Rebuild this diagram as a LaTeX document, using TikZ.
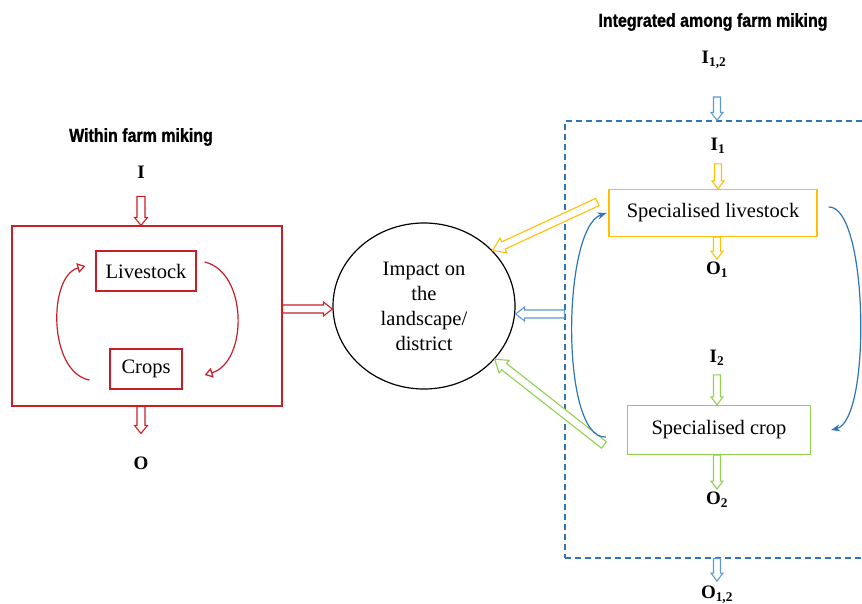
\documentclass[tikz,border=0pt]{standalone}
\usepackage{fontspec}
\setmainfont{Liberation Serif}
\newfontfamily\titlefont[FakeStretch=0.85,FakeBold=1.2]{Liberation Sans}
\usetikzlibrary{arrows.meta,calc,shapes.geometric}
\definecolor{cred}{RGB}{200,30,40}
\definecolor{cyel}{RGB}{255,192,0}
\definecolor{cgrn}{RGB}{146,208,80}
\definecolor{cblu}{RGB}{46,117,182}
\definecolor{clbl}{RGB}{91,155,213}
% hollow block arrow: colour, from, to, shaft half width, head half width, head length
\newcommand\holarrow[6]{%
  \path[draw=#1, fill=white, line width=1.1pt, line join=miter]
    let \p1=#2, \p2=#3,
        \n1={atan2(\y2-\y1,\x2-\x1)},
        \n2={veclen(\x2-\x1,\y2-\y1)} in
    [shift={(\x1,\y1)}, rotate=\n1]
    (0pt,#4) -- ({\n2-#6},#4) -- ({\n2-#6},#5) -- ({\n2},0pt)
    -- ({\n2-#6},-#5) -- ({\n2-#6},-#4) -- (0pt,-#4) -- cycle;}
\begin{document}
\begin{tikzpicture}[x=1pt,y=-1pt,
  title/.style={font=\titlefont\bfseries\fontsize{18.8}{20}\selectfont, inner sep=0pt},
  lab/.style={font=\bfseries\fontsize{19}{22}\selectfont, inner sep=1pt},
  boxed/.style={draw=#1, line width=1.2pt, inner sep=0pt, font=\fontsize{20.5}{24}\selectfont},
  curv/.style={draw=#1, line width=1.2pt},
]
\clip (0,0) rectangle (862,604);
\fill[white] (0,0) rectangle (862,604);

% ---------- left: within farm ----------
\node[title] (t1) at (141,137) {Within farm miking};
\node[lab] (i) at (141,172) {I};
\node[draw=cred, line width=1.2pt, minimum width=270pt, minimum height=180pt, inner sep=0pt] (farm) at (147,316) {};
\node[boxed=cred, minimum width=100pt, minimum height=40pt] (live) at (146,271) {Livestock};
\node[boxed=cred, minimum width=72pt, minimum height=40pt] (crops) at (146,369) {Crops};
\node[lab] (o) at (141,463) {O};

\holarrow{cred}{($(i.south)+(0,17)$)}{(i.south |- farm.north)}{4pt}{6.5pt}{8pt}
\holarrow{cred}{(o.north |- farm.south)}{($(o.north)+(0,-22)$)}{4pt}{6.5pt}{8pt}
\draw[curv=cred, -{Triangle[open, length=8pt, width=10pt]}]
  ($(crops.west)+(-20,11)$) .. controls (48,372) and (48,276) .. ($(live.west)+(-10,-5)$);
\draw[curv=cred, -{Triangle[open, length=8pt, width=10pt]}]
  ($(live.east)+(8,-9)$) .. controls (248,272) and (248,362) .. ($(crops.east)+(22,6)$);

% ---------- centre ----------
\node[ellipse, draw=black, line width=1.2pt, minimum width=182pt, minimum height=166pt, inner sep=0pt,
      align=center, font=\fontsize{20.5}{25}\selectfont] (imp) at (424,306)
      {Impact on\\the\\landscape/\\district};
\holarrow{cred}{(farm.east |- 0,309)}{(imp.west |- 0,309)}{4pt}{7pt}{9pt}

% ---------- right: integrated ----------
\node[title] (t2) at (713,22) {Integrated among farm miking};
\node[lab] (i12) at (714,60) {I\textsubscript{1,2}};
\node[draw=cblu, line width=1.2pt, dash pattern=on 6pt off 4pt, minimum width=315pt, minimum height=437pt, inner sep=0pt] (int) at (722.5,339.5) {};
\node[lab] (i1) at (718,146) {I\textsubscript{1}};
\node[boxed=cyel, minimum width=208pt, minimum height=47pt] (sl) at (713,213) {Specialised livestock};
\node[lab] (o1) at (717,270) {O\textsubscript{1}};
\node[lab] (i2) at (717,358) {I\textsubscript{2}};
\node[boxed=cgrn, minimum width=183pt, minimum height=49pt] (sc) at (719,430) {Specialised crop};
\node[lab] (o2) at (717,500) {O\textsubscript{2}};
\node[lab] (o12) at (717,595) {O\textsubscript{1,2}};

\holarrow{clbl}{(717,97)}{(int.north -| 717,0)}{3.5pt}{6pt}{8pt}
\holarrow{cyel}{($(i1.south)+(0,9)$)}{(sl.north -| i1)}{3.5pt}{6pt}{8pt}
\holarrow{cyel}{(sl.south -| o1)}{($(o1.north)+(0,-2)$)}{3.5pt}{6pt}{8pt}
\holarrow{cgrn}{($(i2.south)+(0,8)$)}{(sc.north -| i2)}{3.5pt}{6pt}{8pt}
\holarrow{cgrn}{(sc.south -| o2)}{($(o2.north)+(0,-2)$)}{3.5pt}{6pt}{8pt}
\holarrow{clbl}{(int.south -| o12)}{($(o12.north)+(0,-4)$)}{3.5pt}{6pt}{8pt}

% connectors to the impact circle
\holarrow{cyel}{($(sl.west)+(-11,-11)$)}{(imp.39)}{4pt}{8pt}{12pt}
\holarrow{clbl}{(int.west |- 0,314)}{(imp.east |- 0,314)}{4pt}{7pt}{9pt}
\holarrow{cgrn}{($(sc.west)+(-23,15)$)}{(imp.-37)}{4pt}{8pt}{12pt}

% blue feedback curves
\draw[curv=cblu, -{Stealth[length=9pt, width=7pt]}]
  ($(sc.west)+(-21,7)$) .. controls (560,440) and (562,228) .. ($(sl.west)+(-2,0)$);
\draw[curv=cblu, -{Stealth[length=9pt, width=7pt]}]
  ($(sl.east)+(11,-6)$) .. controls (868,205) and (872,420) .. ($(sc.east)+(20,0)$);
\end{tikzpicture}
\end{document}
